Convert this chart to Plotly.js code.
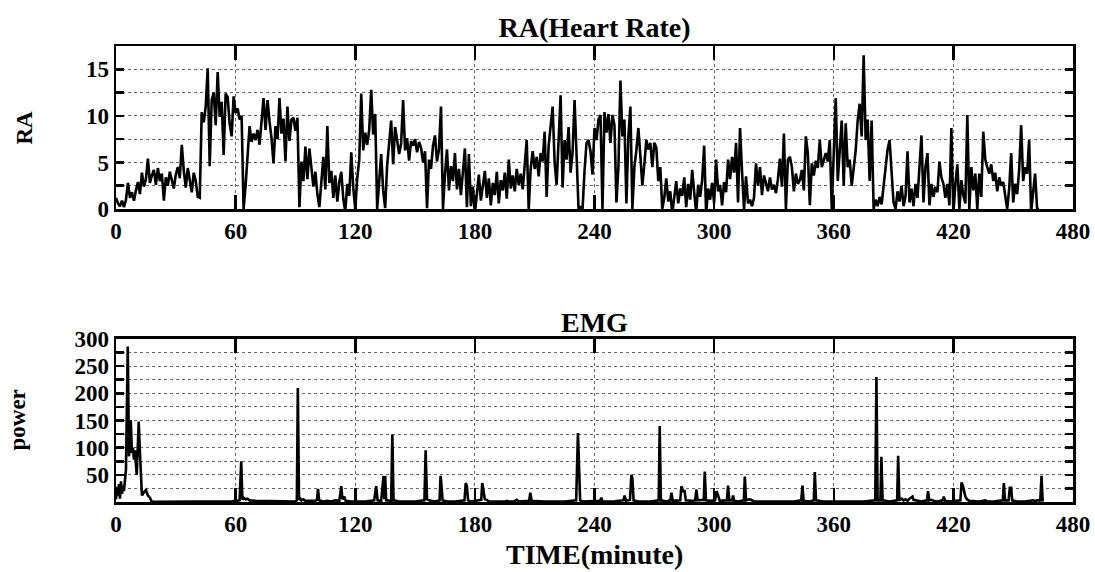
<!DOCTYPE html>
<html>
<head>
<meta charset="utf-8">
<script src="https://cdn.plot.ly/plotly-3.0.1.min.js"></script>
<style>html,body{margin:0;padding:0;background:#fff;}#chart{width:1095px;height:572px;}</style>
</head>
<body>
<div id="chart"></div>
<script>
// ---------- DATA ----------
// RA (heart rate) sampled once per minute, starting at minute 0
const RA_STEP_MIN = 1;
const raValues = [
  1.2, 0.6, 0.3, 0.9, 0.2, 1.0, 2.8, 1.2, 1.8, 0.9,      // 0-9
  2.0, 2.9, 1.6, 3.9, 2.4, 3.2, 5.4, 2.8, 3.6, 4.2,      // 10-19
  2.6, 4.4, 3.0, 3.8, 0.9, 3.4, 2.5, 4.0, 3.1, 2.2,      // 20-29
  3.7, 4.5, 3.3, 6.9, 4.1, 2.3, 4.4, 3.2, 1.8, 3.9,      // 30-39
  3.0, 1.3, 1.2, 10.4, 9.3, 11.0, 15.1, 4.6, 11.7, 12.5, // 40-49
  9.0, 14.7, 9.9, 11.5, 5.8, 12.4, 12.0, 9.2, 7.8, 12.1, // 50-59
  10.3, 10.8, 9.6, 10.0, 0.0, 2.5, 6.3, 8.9, 7.2, 8.1,   // 60-69
  7.4, 8.5, 6.9, 9.2, 11.9, 8.5, 11.7, 9.4, 7.6, 4.9,    // 70-79
  8.9, 7.5, 11.9, 8.1, 9.7, 5.1, 11.0, 7.3, 9.6, 9.8,    // 80-89
  8.4, 9.8, 0.2, 5.1, 3.0, 6.7, 3.2, 6.5, 4.6, 2.4,      // 90-99
  4.0, 1.6, 0.2, 3.3, 5.6, 2.1, 8.9, 2.8, 4.1, 1.2,      // 100-109
  3.6, 0.8, 2.9, 4.0, 1.1, -0.3, 2.7, 1.4, 6.1, 2.3,     // 110-119
  0.0, 3.3, 5.3, 12.4, 6.3, 8.2, 6.9, 8.5, 12.8, 8.0,    // 120-129
  10.2, 0.0, 3.4, 5.9, 2.0, 0.1, 4.7, 7.5, 9.5, 4.8,     // 130-139
  8.8, 7.4, 5.9, 7.0, 11.7, 6.3, 7.6, 5.2, 7.3, 6.8,     // 140-149
  7.5, 6.1, 7.2, 6.6, 5.0, 6.2, 0.1, 5.3, 4.3, 6.8,      // 150-159
  7.9, 5.1, 6.4, 11.0, 0.0, 3.7, 6.4, 2.0, 4.6, 3.0,     // 160-169
  6.0, 2.1, 4.3, 1.5, 3.8, 6.5, 0.2, 5.9, 0.3, 2.4,      // 170-179
  -0.5, 1.8, 3.7, 0.9, 2.6, 4.1, 1.2, 3.3, 0.4, 2.8,     // 180-189
  1.5, 4.0, 0.6, 3.1, 2.0, 3.9, 1.1, 5.3, 2.2, 3.6,      // 190-199
  1.9, 4.3, 2.6, 3.8, 2.1, 5.2, 7.4, 0.0, 4.4, 6.2,      // 200-209
  4.3, 5.6, 3.5, 6.0, 5.1, 8.3, 1.3, 6.8, 9.0, 11.0,     // 210-219
  5.0, 2.6, 7.4, 12.2, 2.3, 7.4, 5.3, 8.8, 3.9, 6.1,     // 220-229
  11.7, 4.5, 0.0, 0.2, 0.0, 4.1, 7.1, 7.4, 6.2, 3.7,     // 230-239
  8.7, 7.4, 9.6, 10.1, 0.0, 10.4, 8.2, 10.2, 7.1, 10.1,  // 240-249
  9.0, 0.7, 4.5, 13.8, 7.8, 9.6, 0.6, 7.8, 11.0, 0.0,    // 250-259
  4.5, 6.3, 8.7, 5.7, 2.5, 4.8, 7.4, 6.4, 7.1, 4.5,      // 260-269
  7.1, 6.6, 3.0, 4.5, 0.0, 1.2, 3.3, 0.8, 1.9, -0.5,     // 270-279
  1.1, 3.0, 0.6, 2.2, 1.4, 3.4, 0.2, 2.7, 1.0, 4.2,      // 280-289
  1.8, -0.4, 2.6, 1.3, 3.1, 6.8, -0.5, 2.2, 1.0, 2.8,    // 290-299
  0.6, 5.3, 1.9, 2.6, 0.4, 2.9, 1.8, 5.3, 3.2, 5.6,      // 300-309
  3.9, 7.1, 0.7, 8.7, 4.0, 0.0, 3.5, 0.6, 1.0, 0.3,      // 310-319
  1.2, 4.9, 2.5, 4.5, 1.5, 3.6, 2.8, 1.9, 3.4, 2.1,      // 320-329
  2.6, 1.7, 3.2, 5.4, 2.4, 8.1, 0.0, 5.3, 5.6, 4.5,      // 330-339
  1.9, 3.8, 2.7, 3.1, 4.2, 2.0, 7.8, 6.0, 0.4, 4.9,      // 340-349
  3.6, 5.2, 4.4, 7.4, 4.5, 5.3, 6.0, 5.1, 7.4, 0.0,      // 350-359
  7.1, 11.9, 3.0, 6.4, 9.5, 2.5, 9.2, 4.5, 5.3, 2.5,     // 360-369
  4.8, 6.3, 9.5, 11.3, 7.8, 16.5, 7.4, 9.6, 3.0, 9.5,    // 370-379
  0.0, 1.0, 0.3, 1.3, 0.5, 2.4, 4.1, 6.4, 7.4, 4.1,      // 380-389
  0.7, 0.0, 1.9, 0.8, 2.5, 0.3, 1.4, 6.2, 0.7, 2.2,      // 390-399
  0.3, 2.7, 1.2, 4.5, 7.9, 0.7, 4.5, 6.0, 0.4, 2.7,      // 400-409
  1.3, 2.4, 1.8, 5.1, 3.4, 2.7, 1.2, 2.7, 0.4, 8.7,      // 410-419
  -0.5, 2.7, 4.8, 0.0, 3.1, 1.5, 0.6, 10.1, 0.0, 4.5,    // 420-429
  2.0, 3.8, 0.0, 3.8, 1.3, 8.3, 5.3, 4.5, 3.8, 4.8,      // 430-439
  3.0, 3.9, 1.9, 3.4, 2.5, 2.9, 1.2, 0.0, 2.2, 6.0,      // 440-449
  0.7, 2.7, 1.6, 4.2, 9.0, 3.0, 4.5, 3.8, 7.4, -0.3,     // 450-459
  1.8, 3.8, 0.0, 0.0                                      // 460-463
];

// EMG power, irregular sample times (minutes)
const emgTime = [
  0, 0.5, 1, 1.5, 2, 2.5, 3, 3.5, 4, 5, 5.9, 6.5, 7, 7.4, 8, 8.5, 9, 9.5, 10.4, 11.4,
  12, 12.5, 13, 14, 15, 16, 17, 17.6, 18, 20, 30, 40, 50, 58, 60, 62, 62.8, 63.4, 64, 65,
  66, 67, 70, 75, 80, 85, 90, 90.7, 91.2, 91.8, 92.5, 93, 94, 95, 98, 100, 100.8, 101.3, 101.9, 104,
  106, 108, 110, 112, 113, 113.6, 114.5, 115.2, 118, 125, 129.5, 130.5, 131.2, 133, 134.2, 134.6, 135, 135.5, 138, 138.6,
  139.2, 142, 150, 154.7, 155.3, 156, 157, 160, 162.3, 162.8, 163.3, 163.8, 166, 170, 174.8, 175.4, 176, 176.6, 178, 183.2,
  183.7, 184.3, 185, 186, 187, 195, 196, 197, 200, 201, 202, 207.2, 207.8, 208.5, 215, 225, 230.8, 231.7, 232.3, 232.8,
  234, 242.8, 243.4, 244, 250, 254.5, 255.1, 255.8, 257.8, 258.5, 259, 259.6, 262, 268, 272.2, 272.7, 273.3, 276, 278, 278.6,
  279.2, 283, 283.6, 284.5, 285.2, 285.8, 289, 290.5, 291.1, 291.7, 294.8, 295.3, 295.9, 298, 300.5, 301.2, 302, 302.8, 306.4, 307,
  307.6, 309, 309.5, 310.1, 312, 314.9, 315.4, 316, 317.5, 318.5, 320, 330, 336, 340, 343.7, 344.3, 344.9, 348, 350, 350.5,
  351.1, 355, 365, 370, 375, 380.8, 381.4, 382, 383.4, 383.9, 384.5, 388, 391.8, 392.3, 392.9, 394, 395, 396, 397, 398,
  399, 399.5, 400, 402, 404, 406.8, 407.3, 407.9, 409, 410, 412, 414.6, 415.2, 415.8, 418, 423.5, 424.1, 424.8, 425.5, 426,
  426.8, 428, 433, 436, 437, 440, 444.8, 445.3, 445.9, 447.7, 448.3, 449, 449.5, 452, 456, 460, 461, 462, 463.6, 464.2,
  464.8
];
const emgPower = [
  5, 28, 12, 33, 6, 38, 15, 30, 20, 60, 286, 84, 110, 151, 90, 100, 78, 95, 50, 148,
  92, 40, 12, 18, 22, 12, 8, 3, 1, 0.5, 0.5, 0.5, 0.5, 1.5, 2, 3, 75, 4, 8, 5,
  6, 3, 2, 2, 2, 1.5, 1, 3, 210, 4, 6, 3, 5, 2, 1.5, 2, 4, 24, 3, 1,
  2, 1, 3, 2, 29, 5, 10, 2, 1, 1, 3, 29, 3, 2, 48, 5, 48, 3, 2, 124,
  3, 1, 1, 3, 95, 5, 3, 1, 3, 48, 29, 3, 1, 1, 3, 35, 29, 3, 1, 4,
  35, 17, 5, 4, 1, 1, 2, 1, 1.5, 4, 1, 2, 17, 2, 1, 1, 3, 127, 62, 3,
  1, 2, 8, 1, 1.5, 3, 12, 2, 4, 50, 44, 3, 1, 1, 3, 140, 3, 1, 3, 17,
  2, 3, 29, 20, 20, 3, 2, 3, 23, 3, 4, 56, 3, 2, 3, 20, 12, 2, 3, 30,
  3, 3, 12, 2, 1, 3, 47, 3, 5, 4, 1, 1, 2, 1, 3, 30, 2, 1, 3, 55,
  3, 1, 1, 1.5, 1, 3, 230, 3, 3, 83, 3, 1, 3, 85, 3, 6, 3, 5, 2, 6,
  8, 10, 4, 2, 1, 3, 20, 3, 4, 2, 1, 3, 10, 2, 1, 3, 36, 29, 15, 10,
  5, 2, 1, 3, 1, 1, 3, 35, 3, 3, 26, 26, 3, 1, 1, 3, 2, 3, 3, 48,
  1
];

// Tick values / labels
const timeTicks = [0, 60, 120, 180, 240, 300, 360, 420, 480];
const raTickVals = [0, 2.5, 5, 7.5, 10, 12.5, 15];
const raTickText = ['0', '', '5', '', '10', '', '15'];
const emgTickVals = [0, 25, 50, 75, 100, 125, 150, 175, 200, 225, 250, 275, 300];
const emgTickText = ['', '', '50', '', '100', '', '150', '', '200', '', '250', '', '300'];

// ---------- CHART ----------
const raTime = raValues.map((_, i) => i * RA_STEP_MIN);

const FONT = '"Liberation Serif", "Times New Roman", Times, serif';
const tickFont = {family: FONT, size: 23, color: '#000', weight: 'bold'};

const traces = [
  {x: raTime, y: raValues, type: 'scatter', mode: 'lines', xaxis: 'x', yaxis: 'y',
   line: {color: '#000', width: 2.6}, hoverinfo: 'x+y'},
  {x: emgTime, y: emgPower, type: 'scatter', mode: 'lines', xaxis: 'x2', yaxis: 'y2',
   line: {color: '#000', width: 2.6}, hoverinfo: 'x+y'}
];

function xAx(anchor) {
  return {
    anchor: anchor, domain: [0, 1], range: [0, 480],
    tickmode: 'array', tickvals: timeTicks, ticktext: timeTicks.map(String),
    ticks: 'inside', ticklen: 14, tickwidth: 2.5, tickcolor: '#000',
    showline: true, linewidth: 2.5, linecolor: '#000', mirror: 'ticks',
    showgrid: true, gridcolor: '#666', gridwidth: 1, griddash: 'dot',
    zeroline: false, tickfont: tickFont, fixedrange: true
  };
}
function yAx(anchor, domain, range, vals, text) {
  return {
    anchor: anchor, domain: domain, range: range,
    tickmode: 'array', tickvals: vals, ticktext: text,
    ticks: 'inside', ticklen: 8, tickwidth: 2.5, tickcolor: '#000',
    showline: true, linewidth: 2.5, linecolor: '#000', mirror: 'ticks',
    showgrid: true, gridcolor: '#666', gridwidth: 1, griddash: 'dot',
    zeroline: false, tickfont: tickFont, fixedrange: true
  };
}

const layout = {
  width: 1095, height: 572,
  margin: {l: 116, r: 22, t: 46, b: 70, pad: 0},
  paper_bgcolor: '#fff', plot_bgcolor: '#fff',
  showlegend: false,
  font: {family: FONT, color: '#000'},
  title: {text: 'RA(Heart Rate)', font: {family: FONT, size: 28, color: '#000', weight: 'bold'},
          xref: 'paper', x: 0.5, xanchor: 'center', yref: 'container', y: 0.953, yanchor: 'middle'},
  xaxis: xAx('y'),
  yaxis: yAx('x', [0.6425, 1], [0, 17.5], raTickVals, raTickText),
  xaxis2: xAx('y2'),
  yaxis2: yAx('x2', [0, 0.3575], [0, 300], emgTickVals, emgTickText),
  annotations: [
    {text: 'EMG', xref: 'paper', yref: 'paper', x: 0.5, y: 0.3947, xanchor: 'center', yanchor: 'middle',
     showarrow: false, font: {family: FONT, size: 28, color: '#000', weight: 'bold'}},
    {text: 'TIME(minute)', xref: 'paper', yref: 'paper', x: 0.5, y: -0.116, xanchor: 'center', yanchor: 'middle',
     showarrow: false, font: {family: FONT, size: 28, color: '#000', weight: 'bold'}},
    {text: 'RA', xref: 'paper', yref: 'paper', x: -0.0951, y: 0.821, xanchor: 'center', yanchor: 'middle',
     textangle: -90, showarrow: false, font: {family: FONT, size: 23, color: '#000', weight: 'bold'}},
    {text: 'power', xref: 'paper', yref: 'paper', x: -0.1034, y: 0.1788, xanchor: 'center', yanchor: 'middle',
     textangle: -90, showarrow: false, font: {family: FONT, size: 23, color: '#000', weight: 'bold'}}
  ]
};

Plotly.newPlot('chart', traces, layout, {displayModeBar: false, staticPlot: true});
</script>
</body>
</html>
